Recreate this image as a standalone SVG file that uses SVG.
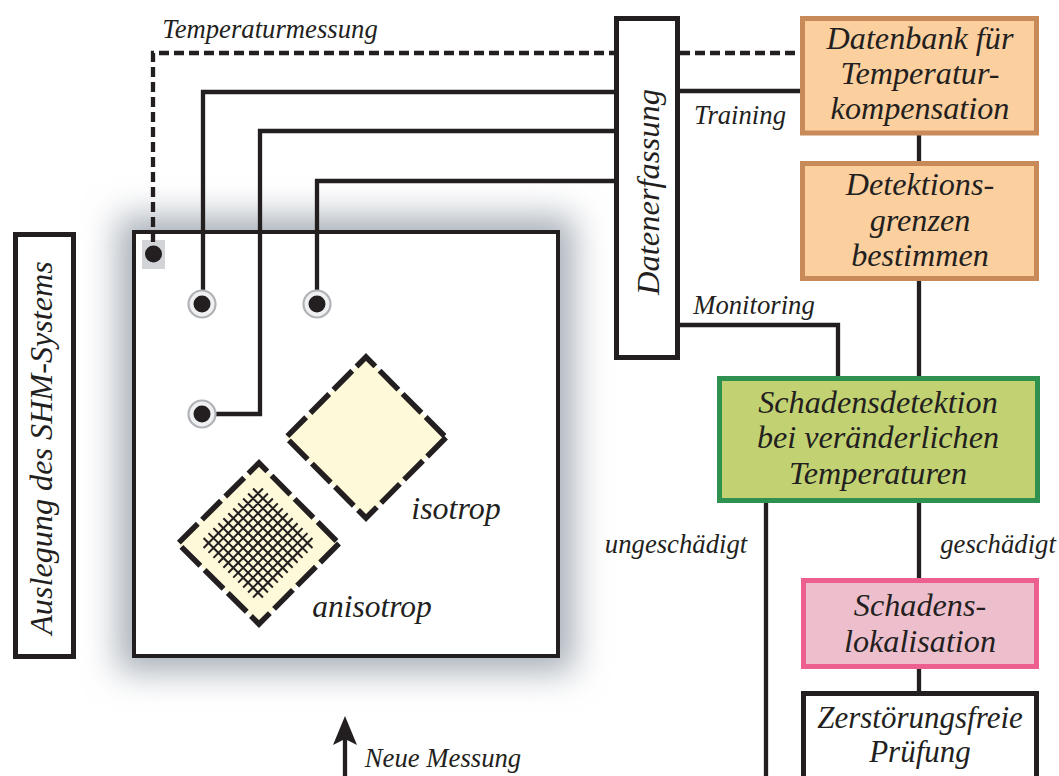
<svg xmlns="http://www.w3.org/2000/svg" width="1059" height="776" viewBox="0 0 1059 776">
<style>
text{font-family:"Liberation Serif","Times New Roman",serif;font-style:italic;fill:#231f20;text-anchor:middle}
.n{font-size:32.2px}
.l{font-size:26.700px}
.box{stroke-width:5}
.or{fill:#fccf9e;stroke:#c98a5a}
.wh{fill:#fff;stroke:#231f20}
.con{fill:none;stroke:#231f20;stroke-width:4.300}
.das{stroke-dasharray:10 5}
.dia{fill:#fef9d8;stroke:#231f20;stroke-width:5.500;stroke-dasharray:26.7 6}
.ring{fill:#eff0f2;stroke:#b0b2b5;stroke-width:2.2}
.dot{fill:#231f20}
</style>
<defs>
<filter id="blur" x="-20%" y="-20%" width="140%" height="140%"><feGaussianBlur stdDeviation="17"/></filter>
</defs>
<rect id="shadow" x="118" y="216" width="456" height="456" fill="#a7afb8" filter="url(#blur)"/>
<g id="plate"><rect x="134" y="232" width="424" height="424" fill="#fff" stroke="#231f20" stroke-width="4"/>
<rect x="142" y="240" width="23" height="29" fill="#d2d4d8"/></g>
<g id="connectors">
<path class="con das" d="M153 242V53H614M680 53H800"/>
<path class="con" d="M203 304V92H614M680 91H800"/>
<path class="con" d="M203 414H260V131H614"/>
<path class="con" d="M317 304V181H614"/>
<path class="con" d="M680 325H838V376"/>
<path class="con" d="M919 135V161M919 281V376M919 503V578M919 669V691"/>
<path class="con" d="M766 503V776"/>
<path class="con" d="M345 776V738"/>
<polygon points="345,716 333,745 345,739 357,745" fill="#231f20"/>
</g>
<g id="sensor-temp"><circle class="dot" cx="153.500" cy="254" r="8.500"/></g>
<g id="sensor-1"><circle class="ring" cx="202" cy="304" r="13.500"/><circle class="dot" cx="202" cy="304" r="8.500"/></g>
<g id="sensor-2"><circle class="ring" cx="317" cy="304" r="13.500"/><circle class="dot" cx="317" cy="304" r="8.500"/></g>
<g id="sensor-3"><circle class="ring" cx="202" cy="414" r="13.500"/><circle class="dot" cx="202" cy="414" r="8.500"/></g>
<g id="isotrop"><path class="dia" d="M446 437.500L366 518L286 437.500L366 357Z"/>
<text x="456" y="519" style="font-size:32px">isotrop</text></g>
<g id="anisotrop"><path class="dia" d="M339 543.500L259 624L178 543.500L259 463Z"/>
<g transform="translate(258 543) rotate(45)"><path fill="none" stroke="#231f20" stroke-width="2" d="M-42 -35H42M-42 -28H42M-42 -21H42M-42 -14H42M-42 -7H42M-42 0H42M-42 7H42M-42 14H42M-42 21H42M-42 28H42M-42 35H42M-35 -42V42M-28 -42V42M-21 -42V42M-14 -42V42M-7 -42V42M0 -42V42M7 -42V42M14 -42V42M21 -42V42M28 -42V42M35 -42V42"/></g>
<text x="372" y="617" style="font-size:31.500px">anisotrop</text></g>
<g id="auslegung"><rect class="box wh" x="15.500" y="234.500" width="58" height="422"/>
<text class="n" transform="translate(52 448) rotate(-90)">Auslegung des SHM-Systems</text></g>
<g id="datenerfassung"><rect class="box wh" x="616.500" y="18.500" width="61" height="339"/>
<text class="n" style="font-size:32.500px" transform="translate(659 192) rotate(-90)">Datenerfassung</text></g>
<g id="datenbank"><rect class="box or" x="802.500" y="18.500" width="234" height="114.500"/>
<text class="n" x="920" y="49">Datenbank für</text><text class="n" x="920" y="84">Temperatur-</text><text class="n" x="920" y="119">kompensation</text></g>
<g id="detektionsgrenzen"><rect class="box or" x="802.500" y="163.500" width="234" height="115"/>
<text class="n" x="920" y="195">Detektions-</text><text class="n" x="920" y="231">grenzen</text><text class="n" x="920" y="266">bestimmen</text></g>
<g id="schadensdetektion"><rect class="box" fill="#c2d273" stroke="#2f9150" x="719.500" y="378.500" width="318" height="122"/>
<text class="n" x="878" y="413">Schadensdetektion</text><text class="n" x="878" y="448">bei veränderlichen</text><text class="n" x="878" y="484">Temperaturen</text></g>
<g id="schadenslokalisation"><rect class="box" fill="#edbfcd" stroke="#ec5f8f" x="803.500" y="580.500" width="233" height="86"/>
<text class="n" x="920" y="616">Schadens-</text><text class="n" x="920" y="652">lokalisation</text></g>
<g id="zfp"><rect class="box wh" x="803.500" y="693.500" width="233" height="90"/>
<text class="n" style="font-size:31px" x="920" y="728">Zerstörungsfreie</text><text class="n" style="font-size:31px" x="920" y="762">Prüfung</text></g>
<g id="labels">
<text class="l" x="270" y="38">Temperaturmessung</text>
<text class="l" x="740" y="124">Training</text>
<text class="l" x="754" y="314">Monitoring</text>
<text class="l" x="676" y="553">ungeschädigt</text>
<text class="l" x="998" y="553">geschädigt</text>
<text class="l" x="443" y="767">Neue Messung</text>
</g>
</svg>
